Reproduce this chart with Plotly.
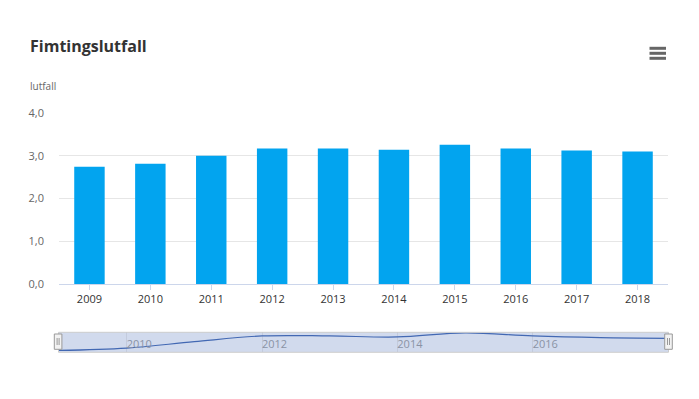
import plotly.graph_objects as go

years = ["2009", "2010", "2011", "2012", "2013", "2014", "2015", "2016", "2017", "2018"]
values = [2.74, 2.81, 3.00, 3.17, 3.17, 3.14, 3.26, 3.17, 3.12, 3.10]
y_ticks = [0, 1, 2, 3, 4]
nav_ticks = [2010, 2012, 2014, 2016]

OFF = 8  # page body margin
W, H = 699 - OFF, 399 - 2 * OFF
L, T = 59 - OFF, 113 - OFF
R = OFF + W - 668
B = OFF + H - 352
PW, PH = W - L - R, H - T - B


def xp(px):
    return (px - OFF - L) / PW


def yp(py):
    return (H - B - (py - OFF)) / PH


fig = go.Figure()
fig.add_trace(go.Bar(
    x=years, y=values, marker=dict(color="#02a4ef", line=dict(width=0)),
    xaxis="x", yaxis="y", hoverinfo="skip", showlegend=False,
))
fig.add_trace(go.Scatter(
    x=[int(y) for y in years], y=values, mode="lines",
    line=dict(color="#4268b3", width=1.2, shape="spline", smoothing=1.0),
    xaxis="x2", yaxis="y2", hoverinfo="skip", showlegend=False,
))

shapes = []
# navigator mask + outline
shapes.append(dict(type="rect", xref="x2 domain", yref="y2 domain", x0=0, x1=1, y0=0, y1=1,
                   fillcolor="rgba(102,133,194,0.3)", line=dict(width=0), layer="below"))
shapes.append(dict(type="rect", xref="paper", yref="paper", x0=xp(58.5), x1=xp(668.5),
                   y0=yp(352.3), y1=yp(332.3), line=dict(color="#cccccc", width=1), layer="above"))
# handles
for hx in (54.3, 664.7):
    shapes.append(dict(type="rect", xref="paper", yref="paper", x0=xp(hx), x1=xp(hx + 7.6),
                       y0=yp(349.3), y1=yp(334), fillcolor="#f2f2f2",
                       line=dict(color="#999999", width=1), layer="above"))
    for dx in (2.8, 4.8):
        shapes.append(dict(type="line", xref="paper", yref="paper", x0=xp(hx + dx), x1=xp(hx + dx),
                           y0=yp(345), y1=yp(338), line=dict(color="#999999", width=1), layer="above"))
# hamburger menu icon
for py in (48.3, 53.3, 58.3):
    shapes.append(dict(type="line", xref="paper", yref="paper", x0=xp(649.5), x1=xp(666),
                       y0=yp(py), y1=yp(py), line=dict(color="#666666", width=3), layer="above"))
# right outer border
shapes.append(dict(type="line", xref="paper", yref="paper", x0=xp(697.5), x1=xp(697.5),
                   y0=yp(398), y1=yp(8.5), line=dict(color="#dddddd", width=1)))

annotations = [
    dict(text="<b>Fimtingslutfall</b>", xref="paper", yref="paper", x=xp(28), y=yp(46),
         xanchor="left", yanchor="middle", showarrow=False,
         font=dict(family="Open Sans", size=16, color="#333333")),
    dict(text="lutfall", xref="paper", yref="paper", x=xp(28), y=yp(86),
         xanchor="left", yanchor="middle", showarrow=False,
         font=dict(family="Open Sans", size=10, color="#666666")),
]

fig.update_layout(
    width=W, height=H,
    margin=dict(l=L, r=R, t=T, b=B, pad=0),
    paper_bgcolor="white", plot_bgcolor="white",
    separators=", ",
    font=dict(family="Open Sans", color="#333333"),
    bargap=0.5,
    showlegend=False,
    shapes=shapes,
    annotations=annotations,
    xaxis=dict(
        type="category", range=[-0.5, 9.5], domain=[0, 1], anchor="y",
        showline=True, linecolor="#ccd6eb", linewidth=1,
        ticks="outside", ticklen=5, tickcolor="#ccd6eb", tickwidth=1,
        showgrid=False, zeroline=False,
        tickfont=dict(family="Open Sans", size=11, color="#333333"),
    ),
    yaxis=dict(
        domain=[yp(284), 1], anchor="x", range=[0, 4], tickvals=y_ticks, tickformat=".1f",
        showgrid=True, gridcolor="#e6e6e6", gridwidth=1, zeroline=False, showline=False,
        ticks="", ticklabelstandoff=14,
        tickfont=dict(family="Open Sans", size=11, color="#666666"),
    ),
    xaxis2=dict(
        domain=[0, 1], anchor="y2", range=[2009, 2018], tickvals=nav_ticks,
        ticklabelposition="inside right", ticklabelstandoff=-4,
        showgrid=True, gridcolor="#c3cbdd", gridwidth=1,
        showline=False, zeroline=False, ticks="",
        tickfont=dict(family="Open Sans", size=11, color="#8a93a5"),
    ),
    yaxis2=dict(
        domain=[0, yp(332.3)], anchor="x2", range=[2.693, 3.278],
        showgrid=False, zeroline=False, showticklabels=False, showline=False,
    ),
)

fig.write_html("out.html", config={"displayModeBar": False})
